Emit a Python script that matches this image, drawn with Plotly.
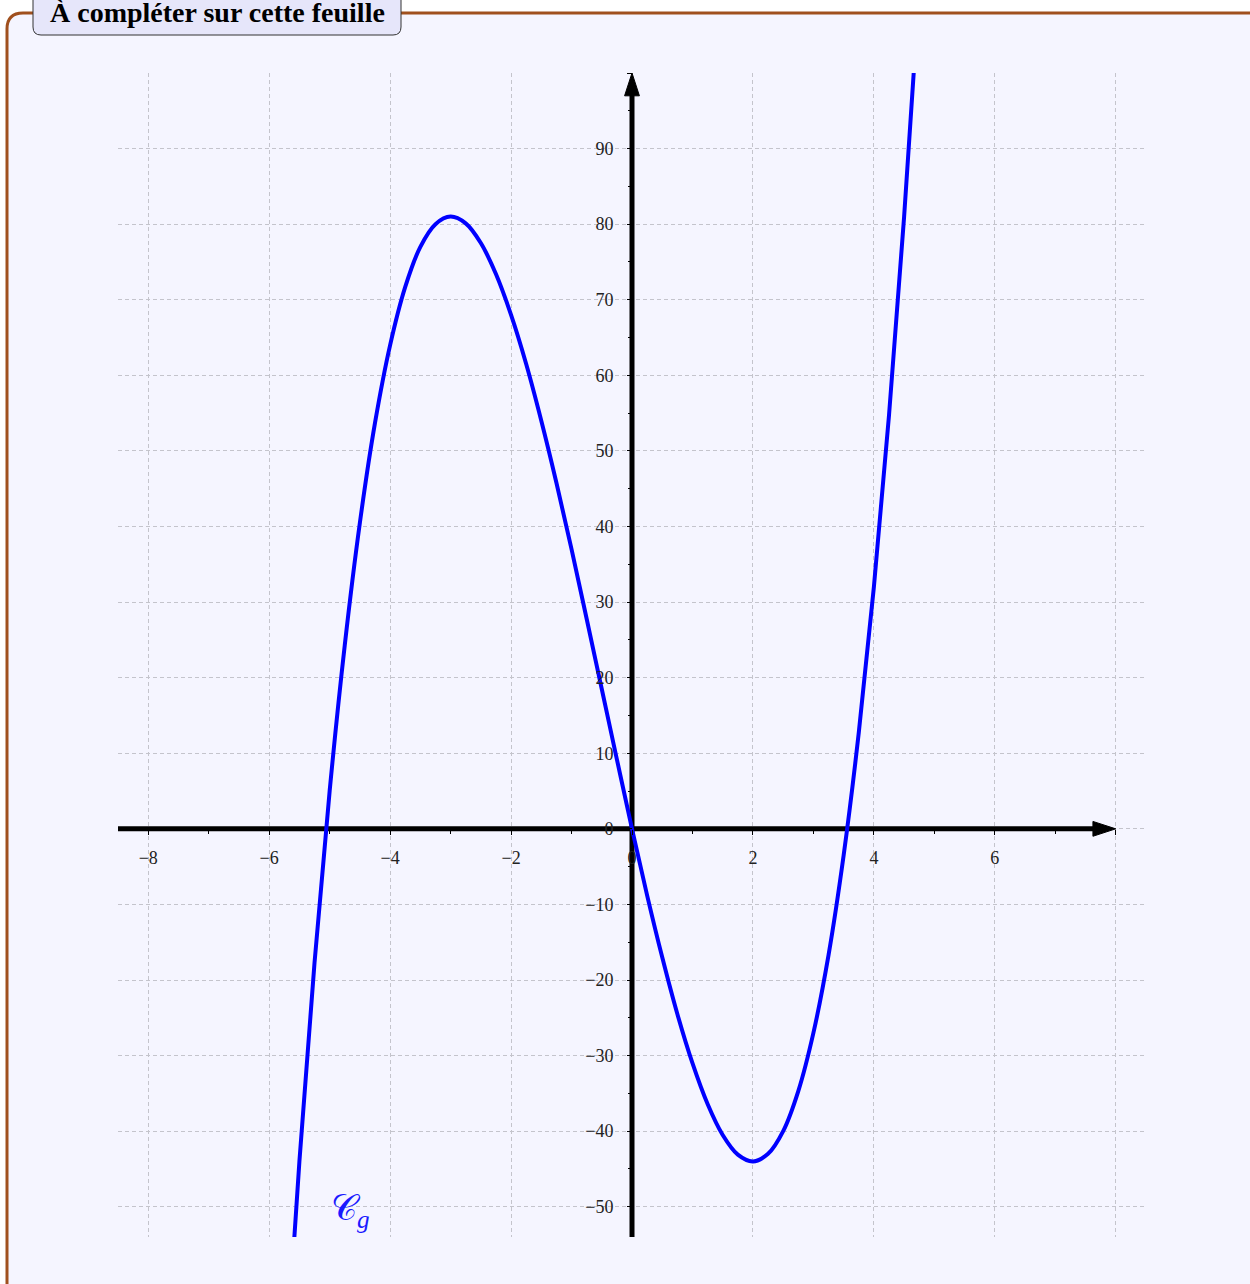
import plotly.graph_objects as go

# courbe de g
x_g = [-5.75, -5.5, -5.25, -5.0, -4.75, -4.5, -4.25, -4.0, -3.75, -3.5, -3.25, -3.0,
       -2.75, -2.5, -2.25, -2.0, -1.75, -1.5, -1.25, -1.0, -0.75, -0.5, -0.25, 0.0,
       0.25, 0.5, 0.75, 1.0, 1.25, 1.5, 1.75, 2.0, 2.25, 2.5, 2.75, 3.0, 3.25, 3.5,
       3.75, 4.0, 4.25, 4.5, 4.75]
y_g = [-74.0, -44.0, -17.7, 5.0, 24.3, 40.5, 53.7, 64.0, 71.7, 77.0, 80.0, 81.0,
       80.1, 77.5, 73.4, 68.0, 61.5, 54.0, 45.8, 37.0, 27.8, 18.5, 9.2, 0.0,
       -8.8, -17.0, -24.5, -31.0, -36.4, -40.5, -43.1, -44.0, -43.0, -40.0, -34.7, -27.0,
       -16.7, -3.5, 12.7, 32.0, 54.7, 81.0, 111.0]

x_ticks = [-8, -6, -4, -2, 0, 2, 4, 6, 8]
x_labels = ['−8', '−6', '−4', '−2', '0', '2', '4', '6', '']
y_ticks = [-50, -40, -30, -20, -10, 0, 10, 20, 30, 40, 50, 60, 70, 80, 90, 100]
y_labels = ['−50', '−40', '−30', '−20', '−10', '0', '10', '20', '30', '40', '50',
            '60', '70', '80', '90', '']
x_minor = [-7, -5, -3, -1, 1, 3, 5, 7]
y_minor = [-45, -35, -25, -15, -5, 5, 15, 25, 35, 45, 55, 65, 75, 85, 95]

x_range = [-8.5, 8.5]
y_range = [-54, 100]

W, H = 1250, 1284
ml, mr, mt, mb = 118, 104, 73, 47
pw, ph = W - ml - mr, H - mt - mb


def px(x):
    return (x - ml) / pw


def py(y):
    return (H - mb - y) / ph


fond = '#F5F5FF'
brun = '#A0501E'
grille = '#C4C4CC'
police = 'Liberation Serif'

fig = go.Figure()

# axes avec flèches
fleche = dict(symbol='arrow', size=[0, 24], angleref='previous', color='black', opacity=1,
              line=dict(width=1, color='black'))
fig.add_trace(go.Scatter(x=[x_range[0], 8], y=[0, 0], mode='lines+markers',
                         line=dict(color='black', width=5), marker=fleche,
                         hoverinfo='skip', showlegend=False))
fig.add_trace(go.Scatter(x=[0, 0], y=[y_range[0], 100], mode='lines+markers',
                         line=dict(color='black', width=5), marker=fleche,
                         hoverinfo='skip', showlegend=False))

# courbe Cg
fig.add_trace(go.Scatter(x=x_g, y=y_g, mode='lines', line=dict(color='#0000FF', width=4, shape='spline'),
                         showlegend=False))

fig.add_annotation(x=-4.65, y=-50.5, text='𝒞<sub><i>g</i></sub>', showarrow=False,
                   font=dict(family=police, size=36, color='#1A1AFF'))

# cadre
r = 16
path = (f'M {px(7)},{py(H + 50)} L {px(7)},{py(13 + r)} '
        f'Q {px(7)},{py(13)} {px(7 + r)},{py(13)} L {px(W + 50)},{py(13)} '
        f'L {px(W + 50)},{py(H + 50)} Z')
fig.add_shape(type='path', path=path, xref='paper', yref='paper', layer='below',
              fillcolor=fond, line=dict(color=brun, width=3))

# titre
rt = 8
tpath = (f'M {px(33)},{py(-5)} L {px(33)},{py(35 - rt)} Q {px(33)},{py(35)} {px(33 + rt)},{py(35)} '
         f'L {px(401 - rt)},{py(35)} Q {px(401)},{py(35)} {px(401)},{py(35 - rt)} '
         f'L {px(401)},{py(-5)} Z')
fig.add_shape(type='path', path=tpath, xref='paper', yref='paper', layer='above',
              fillcolor='#E6E6FA', line=dict(color='#333333', width=1))
fig.add_annotation(x=px(217), y=py(13), xref='paper', yref='paper', xanchor='center', yanchor='middle',
                   text='<b>À compléter sur cette feuille</b>',
                   showarrow=False, font=dict(family=police, size=28, color='black'))

fig.update_xaxes(range=x_range, tickvals=x_ticks, ticktext=x_labels, anchor='free',
                 position=(0 - y_range[0]) / (y_range[1] - y_range[0]),
                 showgrid=True, gridcolor=grille, griddash='4px,3px', gridwidth=1,
                 zeroline=False, showline=False, ticks='outside', ticklen=5, tickcolor='black',
                 ticklabelstandoff=8,
                 minor=dict(tickvals=x_minor, ticks='outside', ticklen=4, tickcolor='black', showgrid=False),
                 tickfont=dict(family=police, size=18, color='#222222'), fixedrange=True)
fig.update_yaxes(range=y_range, tickvals=y_ticks, ticktext=y_labels, anchor='free',
                 position=(0 - x_range[0]) / (x_range[1] - x_range[0]),
                 showgrid=True, gridcolor=grille, griddash='4px,3px', gridwidth=1,
                 zeroline=False, showline=False, ticks='outside', ticklen=5, tickcolor='black',
                 ticklabelstandoff=10,
                 minor=dict(tickvals=y_minor, ticks='outside', ticklen=4, tickcolor='black', showgrid=False),
                 tickfont=dict(family=police, size=18, color='#222222'), fixedrange=True)

fig.update_layout(width=W, height=H, margin=dict(l=ml, r=mr, t=mt, b=mb),
                  paper_bgcolor='white', plot_bgcolor='rgba(0,0,0,0)')

fig.write_html('out.html', config={'displayModeBar': False},
               post_script="document.body.style.margin='0';")
